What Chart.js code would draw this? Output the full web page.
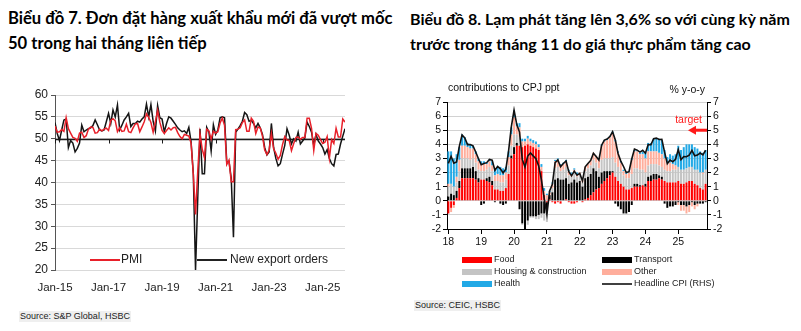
<!DOCTYPE html>
<html>
<head>
<meta charset="utf-8">
<script src="https://cdn.jsdelivr.net/npm/chart.js@4.4.1/dist/chart.umd.min.js"></script>
<style>
  body { margin: 0; width: 801px; height: 331px; background: #fff; position: relative; overflow: hidden; font-family: "Liberation Sans", Arial, sans-serif; }
  .title { position: absolute; font-family: Lato, "Open Sans", sans-serif; font-weight: bold; font-size: 16.6px; line-height: 25px; color: #000; white-space: nowrap; }
  .src { position: absolute; font-size: 9px; line-height: 11px; color: #222; background: #efefef; padding: 0 1px; }
  canvas { position: absolute; }
</style>
</head>
<body>
<div class="title" style="left:8px;top:6px">Biểu đồ 7. Đơn đặt hàng xuất khẩu mới đã vượt mốc<br>50 trong hai tháng liên tiếp</div>
<div class="title" style="left:410px;top:6px;font-size:16px">Biểu đồ 8. Lạm phát tăng lên 3,6% so với cùng kỳ năm<br>trước trong tháng 11 do giá thực phẩm tăng cao</div>
<canvas id="c1" width="360" height="220" style="left:0;top:80px"></canvas>
<canvas id="c2" width="400" height="220" style="left:400px;top:75px"></canvas>
<div class="src" style="left:19px;top:311px">Source: S&amp;P Global, HSBC</div>
<div class="src" style="left:414px;top:300px">Source: CEIC, HSBC</div>
<script>
// ---- Biểu đồ 7: PMI và đơn hàng xuất khẩu mới (tháng 1/2015 - 11/2025) ----
const pmi = [
  52.9, 51.5, 51.6, 52.1, 51.7, 54.8, 52.3, 51.3, 50.3, 50.1, 49.4, 51.3,
  51.5, 50.3, 50.7, 52.2, 52.7, 52.6, 51.3, 51.4, 52.2, 51.8, 52.2, 52.4,
  51.9, 54.2, 54.6, 54.1, 51.6, 52.5, 51.7, 51.8, 53.3, 51.6, 51.4, 52.5,
  53.4, 53.5, 51.6, 52.7, 53.9, 55.7, 54.9, 53.7, 51.5, 53.9, 56.5, 53.8,
  51.9, 51.2, 51.9, 52.5, 52.0, 52.5, 52.6, 51.4, 50.5, 50.0, 51.0, 50.8,
  50.6, 49.0, 41.9, 32.7, 42.7, 51.1, 47.6, 45.7, 52.2, 51.8, 49.9, 51.7,
  51.3, 51.6, 53.6, 54.7, 53.1, 44.1, 45.1, 40.2, 40.2, 52.1, 52.2, 52.5,
  53.7, 54.3, 51.7, 51.7, 54.7, 54.0, 51.2, 52.7, 52.5, 50.6, 47.4, 46.4,
  47.4, 51.2, 47.7, 46.7, 45.3, 46.2, 48.7, 50.5, 49.7, 49.6, 47.3, 48.9,
  50.3, 50.4, 49.9, 50.3, 50.3, 54.7, 54.7, 52.4, 47.3, 51.2, 50.8, 49.8,
  48.9, 49.2, 50.5, 45.6, 49.8, 48.9, 52.4, 50.4, 50.4, 54.5, 53.8
];
const exportOrders = [
  53.7, 51.2, 49.6, 52.0, 54.3, 54.5, 48.0, 49.6, 49.0, 47.0, 47.8, 49.0,
  53.1, 51.6, 52.0, 52.3, 52.5, 53.0, 54.3, 53.2, 52.0, 51.8, 52.0, 53.9,
  55.8, 53.5, 56.6, 55.0, 57.7, 52.0, 53.1, 54.3, 55.0, 55.8, 52.8, 53.5,
  53.5, 54.0, 53.8, 54.5, 55.0, 57.9, 55.0, 57.8, 54.0, 51.8, 57.6, 54.8,
  54.5, 51.6, 53.5, 55.0, 54.7, 54.0, 53.3, 52.5, 52.0, 51.6, 51.8, 51.2,
  52.6, 49.3, 42.0, 20.0, 36.5, 52.3, 42.0, 42.0, 52.6, 51.5, 47.2, 53.2,
  51.0, 52.0, 54.8, 55.0, 54.8, 44.5, 44.8, 41.0, 27.5, 51.5, 52.2, 53.0,
  54.0, 56.0, 55.5, 54.0, 54.2, 53.5, 52.5, 53.5, 52.5, 51.0, 48.0, 46.3,
  47.0, 53.5, 48.0, 45.5, 43.8, 44.3, 46.5, 48.5, 52.3, 50.8, 48.8, 50.0,
  49.5, 51.5, 48.8, 49.5, 50.2, 53.8, 52.8, 51.5, 48.5, 51.0, 49.5, 48.8,
  48.0, 46.5, 47.5, 45.5, 44.3, 43.8, 46.4, 46.5, 48.8, 50.6, 52.3
];
const pmiTickPos = [0, 24, 48, 72, 96, 120];
const pmiTickLabels = ['Jan-15', 'Jan-17', 'Jan-19', 'Jan-21', 'Jan-23', 'Jan-25'];

// ---- Biểu đồ 8: đóng góp vào CPI (tháng 1/2018 - 11/2025) ----
const food = [
  -0.9, -0.5, -0.3, 0.2, 0.9, 1.6, 1.6, 1.6, 1.6, 1.6, 1.5, 1.3,
  1.5, 1.5, 1.4, 1.3, 1.1, 0.8, 0.8, 0.7, 0.7, 0.9, 1.9, 3.0,
  3.3, 3.9, 3.9, 3.8, 3.9, 4.0, 3.9, 3.8, 3.7, 3.6, 2.1, 0.4,
  -0.1, 0.1, -0.1, -0.2, -0.1, -0.2, 0.0, 0.1, -0.1, -0.2, -0.2, -0.1,
  0.0, -0.1, 0.1, 0.2, 0.4, 0.6, 0.8, 0.9, 1.2, 1.4, 1.6, 1.8,
  2.0, 1.7, 1.4, 1.2, 1.0, 0.8, 0.8, 0.9, 1.0, 1.0, 1.0, 1.1,
  1.0, 1.4, 1.4, 1.5, 1.5, 1.6, 1.5, 1.4, 1.3, 1.3, 1.3, 1.3,
  1.4, 1.2, 1.2, 1.3, 1.4, 1.4, 1.2, 1.1, 0.9, 0.8, 1.2
];
const transport = [
  0.3, 0.5, 0.4, 0.5, 0.5, 0.7, 0.7, 0.7, 0.7, 0.8, 0.6, 0.3,
  -0.3, -0.2, 0.2, 0.4, 0.3, -0.1, 0.0, -0.2, -0.3, -0.2, 0.0, 0.2,
  0.5, 0.2, -0.6, -1.6, -2.0, -1.4, -1.1, -1.1, -1.1, -1.0, -0.9, -0.9,
  -0.5, 0.3, 0.6, 1.5, 1.6, 1.5, 1.5, 1.5, 1.2, 1.3, 1.5, 1.3,
  1.4, 1.0, 1.5, 1.5, 1.5, 1.7, 1.3, 0.8, 0.8, 0.7, 0.5, 0.3,
  0.1, -0.2, -0.4, -0.6, -0.9, -0.9, -0.8, -0.3, 0.2, 0.2, 0.1, 0.0,
  0.2, 0.3, 0.4, 0.4, 0.4, 0.2, 0.2, -0.2, -0.5, -0.4, -0.4, -0.3,
  -0.1, -0.3, -0.3, -0.4, -0.3, -0.1, -0.3, -0.2, -0.2, -0.2, -0.1
];
const housing = [
  0.7, 0.7, 0.6, 0.6, 0.7, 0.7, 0.7, 0.7, 0.6, 0.6, 0.6, 0.6,
  0.6, 0.6, 0.6, 0.7, 0.7, 0.6, 0.6, 0.6, 0.6, 0.6, 0.6, 0.7,
  0.9, 0.6, 0.6, -0.1, -0.2, -0.3, -0.1, -0.1, -0.2, -0.3, -0.3, -0.5,
  -0.9, 0.0, 0.3, 0.8, 0.8, 0.6, 0.7, 0.8, 0.6, 0.4, 0.5, 0.4,
  0.4, 0.3, 0.5, 0.6, 0.6, 0.6, 0.6, 0.6, 0.9, 0.9, 0.9, 0.9,
  1.0, 1.0, 1.0, 0.9, 0.8, 0.8, 0.8, 1.0, 1.1, 1.1, 1.1, 1.1,
  0.8, 0.8, 0.8, 0.7, 0.7, 0.7, 0.7, 0.8, 0.8, 0.8, 0.9, 0.9,
  1.0, 1.0, 1.0, 1.0, 1.0, 1.0, 1.0, 1.1, 1.1, 1.1, 1.0
];
const other = [
  0.2, -0.3, -0.2, 0.4, 0.8, 0.9, 0.9, 0.8, 0.8, 0.7, 0.6, 0.6,
  0.5, 0.5, 0.4, 0.4, 0.4, 0.4, 0.5, 0.5, 0.5, 0.5, 0.6, 0.8,
  1.2, 0.6, 0.7, 0.4, 0.3, 0.4, 0.3, 0.3, 0.3, 0.2, 0.3, 0.3,
  0.4, 0.2, 0.3, 0.5, 0.5, 0.4, 0.4, 0.4, 0.3, 0.2, 0.2, 0.2,
  0.2, 0.2, 0.3, 0.3, 0.4, 0.5, 0.5, 0.6, 1.0, 1.2, 1.3, 1.5,
  1.7, 1.5, 1.0, 0.6, 0.3, 0.3, 0.4, 1.0, 1.2, 1.2, 1.1, 1.1,
  1.0, 1.0, 0.9, 0.9, 0.9, 0.9, 0.9, 0.8, 0.6, 0.6, 0.4, 0.3,
  -0.2, -0.4, -0.4, -0.5, -0.5, -0.3, -0.3, -0.2, 0.0, 0.1, 0.0
];
const health = [
  2.3, 2.3, 2.0, 1.6, 0.9, 0.8, 0.6, 0.3, 0.3, 0.2, 0.2, 0.2,
  0.2, 0.2, 0.1, 0.1, 0.3, 0.4, 0.5, 0.6, 0.5, 0.4, 0.4, 0.5,
  0.5, 0.2, 0.3, 0.2, 0.2, 0.2, 0.2, 0.2, 0.2, 0.2, 0.2, 0.2,
  0.1, 0.1, 0.1, 0.1, 0.1, 0.1, 0.1, 0.1, 0.1, 0.1, 0.1, 0.1,
  0.0, 0.0, 0.0, 0.0, 0.0, 0.0, 0.0, 0.0, 0.1, 0.1, 0.1, 0.1,
  0.1, 0.1, 0.1, 0.1, 0.1, 0.1, 0.1, 0.1, 0.1, 0.1, 0.1, 0.2,
  0.5, 0.6, 0.6, 0.9, 0.9, 1.0, 1.0, 0.6, 0.4, 0.6, 0.6, 0.8,
  1.5, 1.4, 1.6, 1.7, 1.6, 1.6, 1.6, 1.5, 1.5, 1.4, 1.4
];
const headlineCpi = [
  2.65, 3.15, 2.66, 2.75, 3.86, 4.67, 4.46, 3.98, 3.98, 3.89, 3.46, 2.98,
  2.56, 2.64, 2.70, 2.93, 2.88, 2.16, 2.44, 2.26, 1.98, 2.24, 3.52, 5.23,
  6.43, 5.40, 4.87, 2.93, 2.40, 3.17, 3.39, 3.18, 2.98, 2.47, 1.48, 0.19,
  -0.97, 0.70, 1.16, 2.70, 2.90, 2.41, 2.64, 2.82, 2.06, 1.77, 2.10, 1.81,
  1.94, 1.42, 2.41, 2.64, 2.86, 3.37, 3.14, 2.89, 3.94, 4.30, 4.37, 4.55,
  4.89, 4.31, 3.35, 2.81, 2.43, 2.00, 2.06, 2.96, 3.66, 3.59, 3.45, 3.58,
  3.37, 3.98, 3.97, 4.40, 4.44, 4.34, 4.36, 3.45, 2.63, 2.89, 2.77, 2.94,
  3.63, 2.91, 3.13, 3.12, 3.24, 3.57, 3.19, 3.24, 3.38, 3.25, 3.58
];
const yearLabels = ['18', '19', '20', '21', '22', '23', '24', '25'];
const inflationTarget = 5;

const months = headlineCpi.map((_, i) => (18 + Math.floor(i / 12)) + '-' + (i % 12 + 1));
const yearStarts = yearLabels.map((_, k) => k * 12);

const ARIAL = '"Liberation Sans", Arial, sans-serif';

// đường 50, vạch chia trục và chú thích bên trong biểu đồ 7
const pmiDecor = {
  id: 'pmiDecor',
  beforeDatasetsDraw(chart) {
    const { ctx, chartArea: a, scales: { x, y } } = chart;
    const y50 = Math.round(y.getPixelForValue(50)) + 0.5;
    ctx.save();
    ctx.strokeStyle = '#1a1a1a';
    ctx.lineWidth = 1.3;
    ctx.beginPath(); ctx.moveTo(a.left, y50); ctx.lineTo(a.right, y50); ctx.stroke();
    ctx.lineWidth = 1;
    pmiTickPos.forEach(v => {
      const px = Math.round(x.getPixelForValue(v)) + 0.5;
      ctx.beginPath(); ctx.moveTo(px, y50); ctx.lineTo(px, y50 + 4); ctx.stroke();
    });
    ctx.restore();
  },
  afterDraw(chart) {
    const { ctx, chartArea: a } = chart;
    const ly = a.bottom - 10;
    ctx.save();
    ctx.font = '12px ' + ARIAL;
    ctx.textBaseline = 'middle';
    ctx.lineWidth = 2;
    ctx.strokeStyle = '#e8202a';
    ctx.beginPath(); ctx.moveTo(90, ly); ctx.lineTo(120, ly); ctx.stroke();
    ctx.fillStyle = '#222';
    ctx.fillText('PMI', 121, ly);
    ctx.strokeStyle = '#222';
    ctx.beginPath(); ctx.moveTo(197, ly); ctx.lineTo(227, ly); ctx.stroke();
    ctx.fillText('New export orders', 230, ly);
    ctx.restore();
  }
};

new Chart(document.getElementById('c1'), {
  type: 'line',
  data: {
    datasets: [
      { label: 'PMI', data: pmi.map((v, i) => ({ x: i, y: v })), borderColor: '#e8202a', borderWidth: 1.5, pointRadius: 0, tension: 0 },
      { label: 'New export orders', data: exportOrders.map((v, i) => ({ x: i, y: v })), borderColor: '#151515', borderWidth: 1.5, pointRadius: 0, tension: 0 }
    ]
  },
  options: {
    responsive: false,
    animation: false,
    layout: { padding: { left: 0, right: 15, top: 15, bottom: 0 } },
    plugins: { legend: { display: false }, tooltip: { enabled: false } },
    scales: {
      x: {
        type: 'linear', min: 0, max: 130,
        afterBuildTicks: s => { s.ticks = pmiTickPos.map(v => ({ value: v })); },
        afterFit: s => { s.height = 30; },
        grid: { display: false },
        border: { display: false },
        ticks: {
          callback: v => pmiTickLabels[pmiTickPos.indexOf(v)],
          autoSkip: false, maxRotation: 0, padding: 3,
          color: '#222', font: { family: ARIAL, size: 11.5 }
        }
      },
      y: {
        min: 20, max: 60,
        afterFit: s => { s.width = 55; },
        grid: { color: '#d9d9d9', tickColor: '#555', tickLength: 4 },
        border: { color: '#555' },
        ticks: { stepSize: 5, autoSkip: false, padding: 3, color: '#222', font: { family: ARIAL, size: 12 } }
      }
    }
  },
  plugins: [pmiDecor]
});

// chú thích, mũi tên mục tiêu và nhãn trục cho biểu đồ 8
const cpiDecor = {
  id: 'cpiDecor',
  afterDraw(chart) {
    const { ctx, chartArea: a, scales: { y } } = chart;
    ctx.save();
    ctx.fillStyle = '#111';
    ctx.font = '10.5px ' + ARIAL;
    ctx.textBaseline = 'alphabetic';
    ctx.fillText('contributions to CPJ ppt', 48, 16);
    ctx.textAlign = 'right';
    ctx.fillText('% y-o-y', 305, 18);

    // mục tiêu lạm phát
    const ty = y.getPixelForValue(inflationTarget);
    ctx.fillStyle = '#ff1a1a';
    ctx.fillText('target', 302, 48);
    ctx.strokeStyle = '#ff1a1a';
    ctx.lineWidth = 3;
    ctx.beginPath(); ctx.moveTo(a.right, ty); ctx.lineTo(a.right - 12, ty); ctx.stroke();
    ctx.beginPath();
    ctx.moveTo(a.right - 19, ty);
    ctx.lineTo(a.right - 11, ty - 4.5);
    ctx.lineTo(a.right - 11, ty + 4.5);
    ctx.closePath(); ctx.fill();

    // chú thích
    ctx.textAlign = 'left';
    ctx.textBaseline = 'middle';
    ctx.font = '9px ' + ARIAL;
    const rows = [185, 197, 209];
    const items = [
      { col: 0, row: 0, label: 'Food', color: '#ff0000' },
      { col: 0, row: 1, label: 'Housing & construction', color: '#c4c4c4' },
      { col: 0, row: 2, label: 'Health', color: '#22a9e6' },
      { col: 1, row: 0, label: 'Transport', color: '#000000' },
      { col: 1, row: 1, label: 'Other', color: '#ffae9c' }
    ];
    items.forEach(it => {
      const sx = it.col ? 202 : 62;
      ctx.fillStyle = it.color;
      ctx.fillRect(sx, rows[it.row] - 3, 30, 6);
      ctx.fillStyle = '#222';
      ctx.fillText(it.label, sx + 32, rows[it.row]);
    });
    ctx.strokeStyle = '#000';
    ctx.lineWidth = 1.5;
    ctx.beginPath(); ctx.moveTo(202, rows[2]); ctx.lineTo(232, rows[2]); ctx.stroke();
    ctx.fillStyle = '#222';
    ctx.fillText('Headline CPI (RHS)', 234, rows[2]);
    ctx.restore();
  }
};

const barDs = (label, values, color) => ({
  type: 'bar', label, data: values, backgroundColor: color,
  barPercentage: 0.72, categoryPercentage: 1, order: 1, yAxisID: 'y'
});

new Chart(document.getElementById('c2'), {
  type: 'bar',
  data: {
    labels: months,
    datasets: [
      barDs('Food', food, '#ff0000'),
      barDs('Transport', transport, '#000000'),
      barDs('Housing & construction', housing, '#c4c4c4'),
      barDs('Other', other, '#ffae9c'),
      barDs('Health', health, '#22a9e6'),
      { type: 'line', label: 'Headline CPI (RHS)', data: headlineCpi, borderColor: '#111', borderWidth: 1.6,
        pointRadius: 0, tension: 0, order: 0, yAxisID: 'y2' }
    ]
  },
  options: {
    responsive: false,
    animation: false,
    layout: { padding: { left: 0, right: 73, top: 27, bottom: 40 } },
    plugins: { legend: { display: false }, tooltip: { enabled: false } },
    scales: {
      x: {
        stacked: true, offset: true,
        afterBuildTicks: s => { s.ticks = yearStarts.map(v => ({ value: v })); },
        afterFit: s => { s.height = 26; },
        grid: { display: true, drawOnChartArea: false, offset: false, color: '#000', tickLength: 5 },
        border: { color: '#000' },
        ticks: {
          callback: v => yearLabels[yearStarts.indexOf(v)],
          autoSkip: false, maxRotation: 0, padding: 2,
          color: '#111', font: { family: ARIAL, size: 10.5 }
        }
      },
      y: {
        stacked: true, min: -2, max: 7,
        afterFit: s => { s.width = 47; },
        grid: { color: '#d2d2d2', tickColor: '#000', tickLength: 4 },
        border: { color: '#000' },
        ticks: { stepSize: 1, autoSkip: false, padding: 2, color: '#111', font: { family: ARIAL, size: 10.5 } }
      },
      y2: {
        position: 'right', min: -2, max: 7,
        afterFit: s => { s.width = 20; },
        grid: { drawOnChartArea: false, tickColor: '#000', tickLength: 4 },
        border: { color: '#000' },
        ticks: { stepSize: 1, autoSkip: false, padding: 2, color: '#111', font: { family: ARIAL, size: 10.5 } }
      }
    }
  },
  plugins: [cpiDecor]
});
</script>
</body>
</html>
